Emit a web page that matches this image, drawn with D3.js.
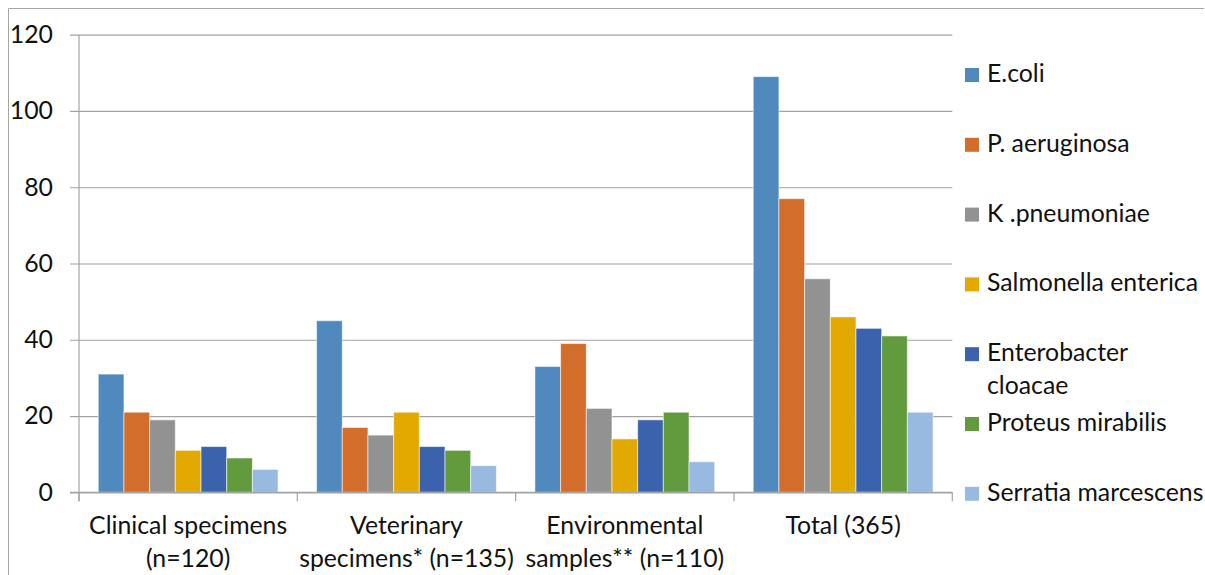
<!DOCTYPE html>
<html>
<head>
<meta charset="utf-8">
<script src="https://cdn.jsdelivr.net/npm/d3@7"></script>
<style>
  html, body { margin: 0; padding: 0; background: #fff; }
  svg { display: block; }
  text { font-family: Lato, "Open Sans", sans-serif; fill: #111; }
</style>
</head>
<body>
<svg id="chart" width="1205" height="575"></svg>
<script>
// Sample groups (x axis), each label split over its display lines
const categories = ["Clinical", "Veterinary", "Environmental", "Total"];
const categoryLines = [
  ["Clinical specimens", "(n=120)"],
  ["Veterinary", "specimens* (n=135)"],
  ["Environmental", "samples** (n=110)"],
  ["Total (365)"]
];

// Organisms (series), in legend order
const organisms = [
  "E.coli", "P. aeruginosa", "K .pneumoniae", "Salmonella enterica",
  "Enterobacter cloacae", "Proteus mirabilis", "Serratia marcescens"
];
const legendLines = [
  ["E.coli"], ["P. aeruginosa"], ["K .pneumoniae"], ["Salmonella enterica"],
  ["Enterobacter", "cloacae"], ["Proteus mirabilis"], ["Serratia marcescens"]
];
const colors = ["#4f89bd", "#d36d2c", "#929292", "#e2a900", "#3b63ad", "#629a3e", "#99bae0"];

// Isolate counts per organism, one value per sample group
const ecoli        = [31, 45, 33, 109];
const paeruginosa  = [21, 17, 39, 77];
const kpneumoniae  = [19, 15, 22, 56];
const salmonella   = [11, 21, 14, 46];
const enterobacter = [12, 12, 19, 43];
const proteus      = [9, 11, 21, 41];
const serratia     = [6, 7, 8, 21];
const seriesValues = [ecoli, paeruginosa, kpneumoniae, salmonella, enterobacter, proteus, serratia];

const yTicks = [0, 20, 40, 60, 80, 100, 120];

const svg = d3.select("#chart");
const fontSize = 24.8;

// Outer frame (left and top edges)
svg.append("path")
  .attr("d", "M8.5,575 V8.5 H1204")
  .attr("fill", "none").attr("stroke", "#a6a6a6").attr("stroke-width", 1);

const plotLeft = 79, plotRight = 952.3, plotTop = 34.7, plotBottom = 492.3;

const y = d3.scaleLinear().domain([0, 120]).range([plotBottom, plotTop]);
const x0 = d3.scaleBand().domain(categories).range([plotLeft, plotRight]).padding(0);
const bw = x0.bandwidth();
const barW = bw / 8.5; // 150% gap between groups
const x1 = d3.scaleBand().domain(organisms).range([barW * 0.75, bw - barW * 0.75]).padding(0);

// Y axis with horizontal gridlines
const yAxis = svg.append("g")
  .attr("transform", `translate(70,0)`)
  .call(d3.axisLeft(y).tickValues(yTicks).tickSize(-(plotRight - 70)).tickPadding(17));
yAxis.select(".domain").remove();
yAxis.selectAll(".tick line").attr("stroke", "#a3a3a3").attr("stroke-width", 1.2);
yAxis.selectAll(".tick text")
  .style("font-family", "Lato, 'Open Sans', sans-serif")
  .style("font-size", fontSize + "px").attr("fill", "#111");

// Bars
const groups = svg.append("g").selectAll("g")
  .data(categories)
  .join("g")
  .attr("transform", d => `translate(${x0(d)},0)`);

groups.selectAll("rect")
  .data((c, ci) => organisms.map((o, oi) => ({ o, oi, v: seriesValues[oi][ci] })))
  .join("rect")
  .attr("x", d => x1(d.o))
  .attr("width", x1.bandwidth())
  .attr("y", d => y(d.v))
  .attr("height", d => y(0) - y(d.v))
  .attr("fill", d => colors[d.oi])
  .attr("stroke", "rgba(255,255,255,0.55)")
  .attr("stroke-width", 1);

// Category axis: baseline, vertical axis line and group tick marks
svg.append("line")
  .attr("x1", 70).attr("x2", plotRight).attr("y1", plotBottom).attr("y2", plotBottom)
  .attr("stroke", "#a3a3a3").attr("stroke-width", 1.2);
svg.append("line")
  .attr("x1", plotLeft).attr("x2", plotLeft).attr("y1", plotTop).attr("y2", plotBottom + 9)
  .attr("stroke", "#a3a3a3").attr("stroke-width", 1.2);
const boundaries = categories.map(c => x0(c)).concat([plotRight]);
svg.append("g").selectAll("line")
  .data(boundaries)
  .join("line")
  .attr("x1", d => d).attr("x2", d => d)
  .attr("y1", plotBottom).attr("y2", plotBottom + 9)
  .attr("stroke", "#a3a3a3").attr("stroke-width", 1.2);

// Category labels
svg.append("g").selectAll("text")
  .data(categories)
  .join("text")
  .attr("text-anchor", "middle")
  .attr("font-size", fontSize)
  .each(function (c, i) {
    const t = d3.select(this);
    categoryLines[i].forEach((line, li) => {
      t.append("tspan")
        .attr("x", x0(c) + bw / 2)
        .attr("y", 534 + li * 33)
        .text(line);
    });
  });

// Legend
const legend = svg.append("g").selectAll("g")
  .data(organisms)
  .join("g")
  .attr("transform", (d, i) => `translate(965,${82 + i * 69.8})`);
legend.append("rect")
  .attr("x", 0).attr("y", -14).attr("width", 14).attr("height", 14)
  .attr("fill", (d, i) => colors[i]);
legend.append("text")
  .attr("font-size", fontSize)
  .each(function (d, i) {
    const t = d3.select(this);
    legendLines[i].forEach((line, li) => {
      t.append("tspan").attr("x", 22).attr("y", li * 33.3).text(line);
    });
  });
</script>
</body>
</html>
